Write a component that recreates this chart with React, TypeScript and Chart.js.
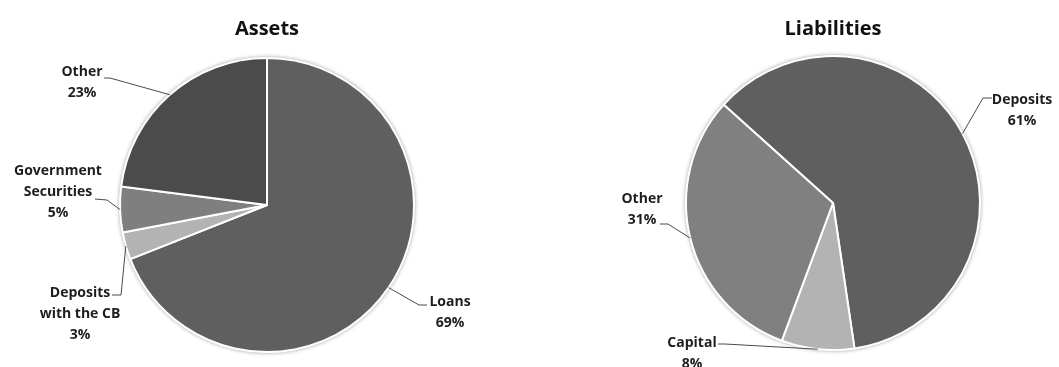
import React, { useEffect, useRef } from "react";
import { Chart, registerables } from "chart.js";

Chart.register(...registerables);

// ---- data ----
const assetLabels: (string | string[])[] = ["Loans", ["Deposits", "with the CB"], ["Government", "Securities"], "Other"];
const assetValues = [69, 3, 5, 23];
const assetColors = ["#5f5f5f", "#b3b3b3", "#7f7f7f", "#4b4b4b"];

const liabilityLabels: (string | string[])[] = ["Deposits", "Capital", "Other"];
const liabilityValues = [61, 8, 31];
const liabilityColors = ["#5f5f5f", "#b3b3b3", "#808080"];

// callout placement, offsets relative to the pie centre
type Callout = { tx: number; ty: number; ex: number; ey: number; bx: number; by: number };
const assetCallouts: Callout[] = [
  { tx: 183, ty: 97, ex: 160, ey: 100, bx: 152, by: 100 },
  { tx: -187, ty: 88, ex: -155, ey: 90, bx: -146, by: 90 },
  { tx: -209, ty: -34, ex: -172, ey: -6, bx: -160, by: -5 },
  { tx: -185, ty: -133, ex: -163, ey: -127, bx: -157, by: -127 },
];
const liabilityCallouts: Callout[] = [
  { tx: 189, ty: -103, ex: 159, ey: -105, bx: 150, by: -105 },
  { tx: -141, ty: 140, ex: -115, ey: 141, bx: -108, by: 141 },
  { tx: -191, ty: -4, ex: -173, ey: 21, bx: -165, by: 21 },
];

const FONT = "'Open Sans', 'DejaVu Sans', sans-serif";

const shadowPlugin = {
  id: "pieShadow",
  beforeDatasetsDraw(chart: any) {
    const arc = chart.getDatasetMeta(0).data[0];
    if (!arc) return;
    const ctx = chart.ctx;
    ctx.save();
    ctx.beginPath();
    ctx.arc(arc.x, arc.y, arc.outerRadius + 0.5, 0, Math.PI * 2);
    ctx.fillStyle = "#ffffff";
    ctx.shadowColor = "rgba(0,0,0,0.45)";
    ctx.shadowBlur = 4;
    ctx.fill();
    ctx.restore();
  },
};

const calloutPlugin = {
  id: "callouts",
  afterDatasetsDraw(chart: any, _args: any, opts: any) {
    const meta = chart.getDatasetMeta(0);
    const labels = chart.data.labels;
    const values = chart.data.datasets[0].data;
    const callouts: Callout[] = opts.items || [];
    const ctx = chart.ctx;
    ctx.save();
    meta.data.forEach((arc: any, i: number) => {
      const c = callouts[i];
      if (!c) return;
      const cx = arc.x;
      const cy = arc.y;
      const mid = (arc.startAngle + arc.endAngle) / 2;
      const px = cx + Math.cos(mid) * arc.outerRadius;
      const py = cy + Math.sin(mid) * arc.outerRadius;
      ctx.beginPath();
      ctx.moveTo(px, py);
      ctx.lineTo(cx + c.bx, cy + c.by);
      ctx.lineTo(cx + c.ex, cy + c.ey);
      ctx.strokeStyle = "#4a4a4a";
      ctx.lineWidth = 1;
      ctx.stroke();
      const lab = labels[i];
      const lines = (Array.isArray(lab) ? lab.slice() : [lab]).concat([values[i] + "%"]);
      ctx.fillStyle = "#1e1e1e";
      ctx.font = "bold 14px " + FONT;
      ctx.textAlign = "center";
      ctx.textBaseline = "middle";
      lines.forEach((ln: string, k: number) => {
        ctx.fillText(ln, cx + c.tx, cy + c.ty + k * 21);
      });
    });
    ctx.restore();
  },
};

function PieChart(props: {
  title: string;
  labels: (string | string[])[];
  values: number[];
  colors: string[];
  rotation: number;
  callouts: Callout[];
  padding: { top: number; bottom: number; left: number; right: number };
  titleGap: number;
}) {
  const ref = useRef<HTMLCanvasElement | null>(null);
  useEffect(() => {
    if (!ref.current) return;
    const chart = new Chart(ref.current, {
      type: "pie",
      data: {
        labels: props.labels as any,
        datasets: [
          {
            data: props.values,
            backgroundColor: props.colors,
            borderColor: "#ffffff",
            borderWidth: 2,
          },
        ],
      },
      options: {
        animation: false,
        responsive: false,
        rotation: props.rotation,
        layout: { padding: props.padding },
        plugins: {
          legend: { display: false },
          tooltip: { enabled: false },
          title: {
            display: true,
            text: props.title,
            color: "#111111",
            font: { family: FONT, size: 20, weight: "bold", lineHeight: 1.2 },
            padding: { top: 0, bottom: props.titleGap },
          },
          callouts: { items: props.callouts },
        } as any,
      },
      plugins: [shadowPlugin, calloutPlugin],
    });
    return () => chart.destroy();
  }, []);
  return <canvas ref={ref} width={530} height={367} style={{ width: 530, height: 367, display: "block" }} />;
}

export default function App() {
  return (
    <div style={{ position: "absolute", left: 0, top: 0, width: 1059, height: 367, background: "#fff", overflow: "hidden" }}>
      <div style={{ position: "absolute", left: 0, top: 0 }}>
        <PieChart
          title="Assets"
          labels={assetLabels}
          values={assetValues}
          colors={assetColors}
          rotation={0}
          callouts={assetCallouts}
          padding={{ top: 17, bottom: 14, left: 119, right: 115 }}
          titleGap={16}
        />
      </div>
      <div style={{ position: "absolute", left: 530, top: 0 }}>
        <PieChart
          title="Liabilities"
          labels={liabilityLabels}
          values={liabilityValues}
          colors={liabilityColors}
          rotation={-48}
          callouts={liabilityCallouts}
          padding={{ top: 17, bottom: 16, left: 155, right: 79 }}
          titleGap={14}
        />
      </div>
    </div>
  );
}
